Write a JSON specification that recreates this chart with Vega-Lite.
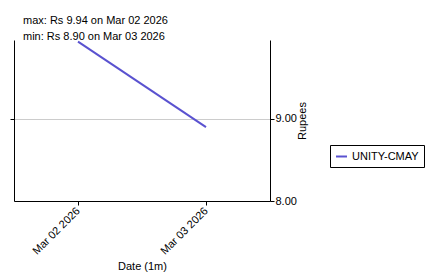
{
  "$schema": "https://vega.github.io/schema/vega-lite/v6.json",
  "width": 256,
  "height": 161,
  "autosize": {"type": "none"},
  "padding": {"left": 14, "top": 40, "right": 157, "bottom": 74},
  "background": "white",
  "config": {
    "font": "Liberation Sans",
    "view": {"stroke": null},
    "axis": {"labelFont": "Liberation Sans", "titleFont": "Liberation Sans", "labelFontSize": 11, "titleFontSize": 11, "titleFontWeight": "normal", "labelColor": "black", "titleColor": "black", "domainColor": "black", "tickColor": "black"}
  },
  "title": {
    "text": "max: Rs 9.94 on Mar 02 2026",
    "subtitle": "min: Rs 8.90 on Mar 03 2026",
    "anchor": "start",
    "frame": "group",
    "dx": 9,
    "offset": -4,
    "font": "Liberation Sans",
    "fontSize": 11,
    "fontWeight": "normal",
    "color": "black",
    "subtitleFont": "Liberation Sans",
    "subtitleFontSize": 11,
    "subtitleColor": "black",
    "subtitlePadding": 5
  },
  "data": {
    "values": [
      {"date": "2026-03-02T00:00:00", "price": 9.94, "series": "UNITY-CMAY"},
      {"date": "2026-03-03T00:00:00", "price": 8.90, "series": "UNITY-CMAY"}
    ]
  },
  "layer": [
    {
      "mark": {"type": "line", "strokeWidth": 2},
      "encoding": {
        "x": {
          "field": "date",
          "type": "temporal",
          "scale": {"domain": [{"year": 2026, "month": 3, "date": 1, "hours": 12}, {"year": 2026, "month": 3, "date": 3, "hours": 12}]},
          "axis": {
            "title": "Date (1m)",
            "format": "%b %d %Y",
            "labelAngle": -45,
            "labelAlign": "right",
            "labelBaseline": "middle",
            "values": [{"year": 2026, "month": 3, "date": 2}, {"year": 2026, "month": 3, "date": 3}],
            "grid": false,
            "tickSize": 4,
            "labelPadding": 4,
            "titlePadding": 4
          }
        },
        "y": {
          "field": "price",
          "type": "quantitative",
          "scale": {"domain": [8, 9.96], "zero": false, "nice": false},
          "axis": {
            "orient": "right",
            "title": "Rupees",
            "titleAngle": 270,
            "format": ".2f",
            "values": [8, 9],
            "grid": true,
            "gridColor": "#cccccc",
            "tickSize": 4,
            "labelPadding": 1,
            "titlePadding": 11
          }
        },
        "color": {
          "field": "series",
          "type": "nominal",
          "scale": {"range": ["#5a52d0"]},
          "legend": {
            "title": null,
            "orient": "none",
            "legendX": 316,
            "legendY": 105,
            "symbolType": "stroke",
            "symbolSize": 120,
            "symbolStrokeWidth": 2,
            "labelFontSize": 11,
            "labelFont": "Liberation Sans",
            "labelColor": "black",
            "strokeColor": "black",
            "fillColor": "white",
            "padding": 5
          }
        }
      }
    },
    {
      "mark": {"type": "rule", "opacity": 0},
      "encoding": {
        "y": {
          "datum": 9,
          "type": "quantitative",
          "axis": {
            "orient": "left",
            "title": null,
            "labels": false,
            "values": [9],
            "grid": false,
            "tickSize": 4
          }
        }
      }
    }
  ],
  "resolve": {"axis": {"y": "independent"}}
}
